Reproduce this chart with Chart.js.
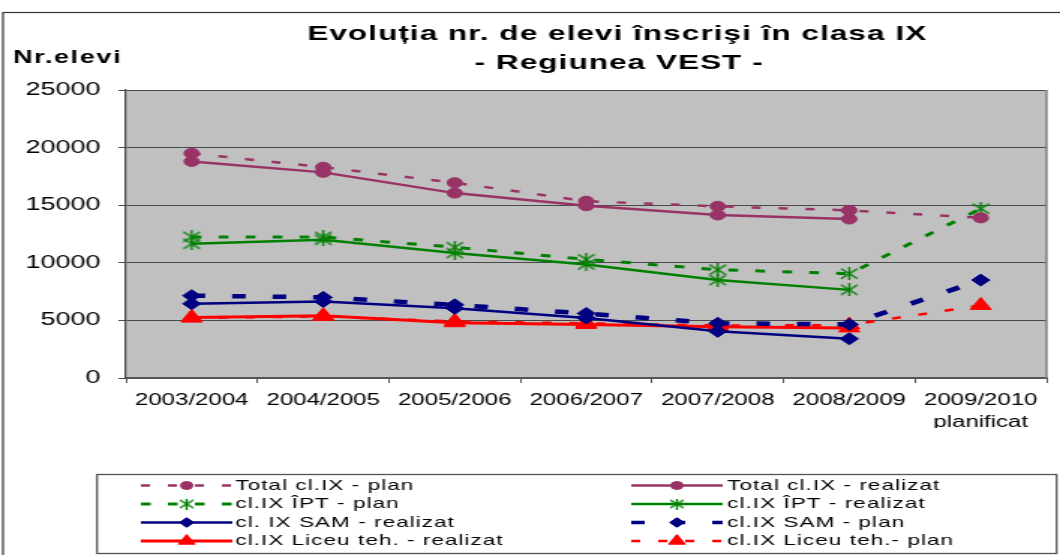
<!DOCTYPE html>
<html><head><meta charset="utf-8">
<script src="https://cdn.jsdelivr.net/npm/chart.js@4.4.1/dist/chart.umd.min.js"></script>
<style>html,body{margin:0;padding:0;background:#fff;overflow:hidden}
#c{display:block;width:1060px;height:555px}</style></head>
<body><canvas id="c" width="707" height="555" style="width:1060px;height:555px"></canvas>
<script>
// ---- data ----
const categories = ['2003/2004','2004/2005','2005/2006','2006/2007','2007/2008','2008/2009',['2009/2010','planificat']];
const yTickValues = [0,5000,10000,15000,20000,25000];
const totalPlan     = [19500,18300,16950,15350,14900,14550,13900];
const totalRealizat = [18800,17850,16050,14950,14150,13800,null];
const iptPlan       = [12250,12250,11350,10300,9400,9050,14700];
const iptRealizat   = [11650,12000,10850,9850,8500,7650,null];
const samRealizat   = [6450,6650,6050,5200,4050,3400,null];
const samPlan       = [7150,7000,6350,5600,4750,4650,8500];
const liceuRealizat = [5250,5400,4800,4650,4450,4350,null];
const liceuPlan     = [5200,5350,4900,4750,4550,4600,6300];
const seriesLabels = ['Total cl.IX - plan','Total cl.IX - realizat','cl.IX ÎPT - plan','cl.IX ÎPT - realizat',
  'cl. IX SAM - realizat','cl.IX SAM - plan','cl.IX Liceu teh. - realizat','cl.IX Liceu teh.- plan'];

const PLUM='#993366', GREEN='#008000', NAVY='#000080', RED='#FF0000';
const FONT="'Liberation Sans', Arial, sans-serif";

function makeStar(size,color){
  const c=document.createElement('canvas'); c.width=size; c.height=size;
  const x=c.getContext('2d'); x.strokeStyle=color; x.lineWidth=1.4;
  x.beginPath();
  x.moveTo(1,1.5); x.lineTo(size-1,size-1.5);
  x.moveTo(size-1,1.5); x.lineTo(1,size-1.5);
  x.moveTo(size/2,0); x.lineTo(size/2,size);
  x.stroke(); return c;
}
const star = makeStar(13,GREEN);
const starSmall = makeStar(11,GREEN);

function ds(label,data,color,width,dash,style,radius){
  return {label,data,borderColor:color,backgroundColor:color,borderWidth:width,borderDash:dash,
    pointStyle:style,pointRadius:radius,pointHoverRadius:radius,pointBackgroundColor:color,
    pointBorderColor:color,pointBorderWidth:1,tension:0,spanGaps:false,fill:false};
}
const datasets=[
  ds(seriesLabels[0],totalPlan,PLUM,2.5,[6,12],'circle',5),
  ds(seriesLabels[1],totalRealizat,PLUM,2.5,[],'circle',5),
  ds(seriesLabels[2],iptPlan,GREEN,3,[6.5,11.5],star,6),
  ds(seriesLabels[3],iptRealizat,GREEN,2.5,[],star,6),
  ds(seriesLabels[4],samRealizat,NAVY,2.5,[],'rectRot',6),
  ds(seriesLabels[5],samPlan,NAVY,4.5,[9,18],'rectRot',6),
  ds(seriesLabels[6],liceuRealizat,RED,3,[],'triangle',8),
  ds(seriesLabels[7],liceuPlan,RED,2.5,[6,12],'triangle',8)
];

const decor={
  id:'decor',
  beforeDraw(chart){
    const {ctx,chartArea:a}=chart;
    ctx.save();
    ctx.fillStyle='#fff'; ctx.fillRect(0,0,chart.width,chart.height);
    ctx.fillStyle='#C0C0C0'; ctx.fillRect(a.left,a.top,a.right-a.left,a.bottom-a.top);
    ctx.restore();
  },
  afterDraw(chart){
    const {ctx,chartArea:a}=chart;
    ctx.save();
    // outer border
    ctx.strokeStyle='#333'; ctx.lineWidth=1.2;
    ctx.strokeRect(2,12.5,760,600);
    // plot right border
    ctx.strokeStyle='#808080'; ctx.lineWidth=1.5;
    ctx.beginPath(); ctx.moveTo(a.right,a.top); ctx.lineTo(a.right,a.bottom); ctx.stroke();
    // titles
    ctx.fillStyle='#000'; ctx.textBaseline='alphabetic';
    ctx.font='bold 21px '+FONT; ctx.letterSpacing='0.7px'; ctx.textAlign='center';
    ctx.fillText('Evoluția nr. de elevi înscrişi în clasa IX',411.7,40);
    ctx.fillText('- Regiunea VEST -',413,69);
    ctx.font='bold 18px '+FONT; ctx.letterSpacing='1.1px'; ctx.textAlign='left';
    ctx.fillText('Nr.elevi',8.7,63);
    // legend
    ctx.letterSpacing='0px';
    ctx.strokeStyle='#555'; ctx.lineWidth=1.3;
    ctx.strokeRect(64.7,474.5,640,79);
    const rows=[485.5,504,522.5,541];
    chart.data.datasets.forEach((d,i)=>{
      const col=i%2,row=Math.floor(i/2),y=rows[row];
      const x0=col?421:94,x1=col?482:155,mx=(x0+x1)/2,tx=col?485:157;
      ctx.save();
      ctx.strokeStyle=d.borderColor; ctx.lineWidth=Math.min(d.borderWidth,3.5);
      ctx.setLineDash(d.borderDash||[]);
      ctx.beginPath(); ctx.moveTo(x0,y); ctx.lineTo(x1,y); ctx.stroke();
      ctx.restore();
      ctx.save();
      ctx.fillStyle=d.borderColor; ctx.strokeStyle=d.borderColor; ctx.lineWidth=1;
      let ps=d.pointStyle; if(ps===star) ps=starSmall;
      Chart.helpers.drawPoint(ctx,{pointStyle:ps,radius:d.pointRadius*0.8,rotation:0,borderWidth:1},mx,y);
      ctx.restore();
      ctx.save();
      ctx.fillStyle='#000'; ctx.font='15px '+FONT; ctx.letterSpacing='0.7px';
      ctx.textBaseline='middle'; ctx.textAlign='left';
      ctx.fillText(d.label,tx,y);
      ctx.restore();
    });
    ctx.restore();
  }
};

new Chart(document.getElementById('c'),{
  type:'line',
  data:{labels:categories,datasets},
  options:{
    responsive:false,animation:false,devicePixelRatio:1,
    layout:{padding:{top:90,left:0,right:5,bottom:127}},
    plugins:{legend:{display:false},title:{display:false},tooltip:{enabled:false}},
    scales:{
      x:{offset:true,
        grid:{offset:true,drawOnChartArea:false,drawTicks:true,tickLength:5,color:'#555',lineWidth:1},
        border:{color:'#555',width:2},
        ticks:{color:'#000',font:{family:FONT,size:16,lineHeight:1.4},padding:6,maxRotation:0,autoSkip:false},
        afterFit(s){s.height=50;}
      },
      y:{min:0,max:25000,
        afterBuildTicks(s){s.ticks=yTickValues.map(v=>({value:v}));},
        grid:{color:'#4a4a4a',lineWidth:1,tickLength:5,drawTicks:true},
        border:{color:'#444',width:1.2},
        ticks:{color:'#000',font:{family:FONT,size:18},padding:12,callback:(v)=>String(v)},
        afterFit(s){s.width=84;}
      }
    }
  },
  plugins:[decor]
});
</script></body></html>
